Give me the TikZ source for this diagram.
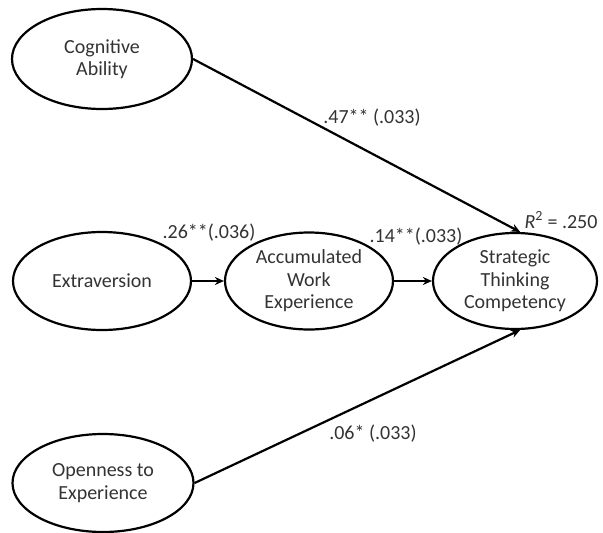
\documentclass[tikz,border=0pt]{standalone}
\usepackage{fontspec}
\setmainfont{Carlito}
\usetikzlibrary{shapes.geometric,arrows.meta}
\definecolor{txt}{HTML}{333333}
\begin{document}
\begin{tikzpicture}[x=1pt,y=-1pt,
  latent/.style={ellipse,draw=black,line width=2.2pt,inner sep=0pt,align=center,
    text=txt,font=\fontsize{20}{22.5}\selectfont},
  coef/.style={inner sep=0pt,text=txt,font=\fontsize{20}{22.5}\selectfont},
  arr/.style={line width=2.2pt,-{Stealth[length=9pt,width=8pt]}}]
\useasboundingbox (0,0) rectangle (603,533);
\node[latent,minimum width=180pt,minimum height=100pt] (cog) at (102,59) {Cognitive\\Ability};
\node[latent,minimum width=178pt,minimum height=98pt] (ext) at (102,281) {Extraversion};
\node[latent,minimum width=168pt,minimum height=97pt] (acc) at (309,281) {Accumulated\\Work\\Experience};
\node[latent,minimum width=164pt,minimum height=96pt] (str) at (515,281) {Strategic\\Thinking\\Competency};
\node[latent,minimum width=181pt,minimum height=98pt] (open) at (103,483) {Openness to\\Experience};
\draw[arr] (ext) -- (acc);
\draw[arr] (acc) -- (str);
\draw[arr] (cog.east) -- (str.84);
\draw[arr] (open.east) -- (str.-84);
\node[coef] (l1) at (372,118) {.47** (.033)};
\node[coef] (l2) at (209,233) {.26**(.036)};
\node[coef] (l3) at (416,237) {.14**(.033)};
\node[coef] (l4) at (373,434) {.06* (.033)};
\node[coef] (r2) at (561,220) {\textit{R}\textsuperscript{2} = .250};
\end{tikzpicture}
\end{document}
